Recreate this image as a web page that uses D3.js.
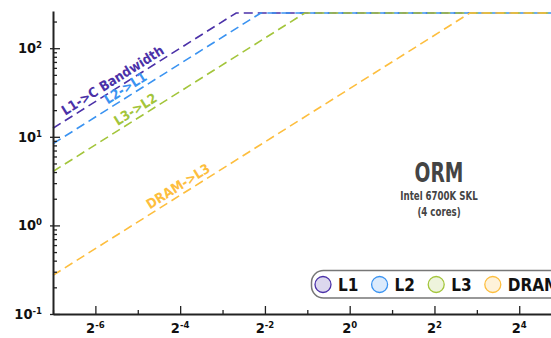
<!DOCTYPE html>
<html>
<head>
<meta charset="utf-8">
<script src="https://cdn.jsdelivr.net/npm/d3@7"></script>
<style>
	html, body { margin: 0; padding: 0; background: #fff; overflow: hidden; }
	svg { display: block; font-family: 'DejaVu Sans Condensed', 'Liberation Sans Narrow', sans-serif; font-weight: bold; }
</style>
</head>
<body>
<svg id="chart" width="551" height="338"></svg>
<script>
'use strict';

// memory levels and their measured bandwidth (GB/s)
var levels     = ['L1', 'L2', 'L3', 'DRAM'];
var bandwidths = [1600, 1070, 520, 35];
var lineLabels = ['L1->C Bandwidth', 'L2->L1', 'L3->L2', 'DRAM->L3'];
var peak       = 250; // GFLOP/s compute roof

var xTicks = [-6, -4, -2, 0, 2, 4];
var yTicks = [-1, 0, 1, 2];

var colors = ['#4b31a8', '#3a93f1', '#a3c53b', '#fdbe3e'];
var fills  = ['#dcd8ee', '#dcebfc', '#eef4dc', '#fef2da'];

var svg = d3.select('#chart');

var x = d3.scaleLog().base(2)
	.domain([Math.pow(2, -7), Math.pow(2, 6)])
	.range([53, 604]);

var y = d3.scaleLog()
	.domain([0.1, Math.pow(10, 2.42)])
	.range([314, 11]);

function roof(i) {
	var knee = peak / bandwidths[i];
	return [
		[x.domain()[0], bandwidths[i] * x.domain()[0]],
		[knee, peak],
		[x.domain()[1], peak]
	];
}

var line = d3.line()
	.x(function (d) { return x(d[0]); })
	.y(function (d) { return y(d[1]); });

// rooflines
svg.append('g').attr('class', 'roofs')
	.selectAll('path')
	.data(levels)
	.enter().append('path')
		.attr('d', function (d, i) { return line(roof(i)); })
		.attr('fill', 'none')
		.attr('stroke', function (d, i) { return colors[i]; })
		.attr('stroke-width', 1.6)
		.attr('stroke-dasharray', '9,5');

// labels sitting on the slopes
var labelAt = [-6.66, -5.66, -5.42, -4.66];
var angle   = -Math.atan2(y(1) - y(2), x(2) - x(1)) * 180 / Math.PI;

svg.append('g').attr('class', 'labels')
	.selectAll('text')
	.data(lineLabels)
	.enter().append('text')
		.attr('transform', function (d, i) {
			var ai = Math.pow(2, labelAt[i]);
			return 'translate(' + x(ai) + ',' + y(bandwidths[i] * ai) + ') rotate(' + angle + ')';
		})
		.attr('dy', '-0.3em')
		.attr('fill', function (d, i) { return colors[i]; })
		.style('font-size', '13.5px')
		.text(function (d) { return d; });

// axes
var xAxis = d3.axisBottom(x)
	.tickValues(d3.range(-7, 7).map(function (p) { return Math.pow(2, p); }))
	.tickSize(0)
	.tickFormat('');

svg.append('g')
	.attr('transform', 'translate(0,314)')
	.call(xAxis)
	.call(function (g) {
		g.select('.domain').attr('stroke', '#222').attr('stroke-width', 2);
		g.selectAll('.tick line')
			.attr('y2', function (d) {
				return Math.round(Math.log2(d)) % 2 === 0 ? -8 : -4;
			})
			.attr('stroke', '#222')
			.attr('stroke-width', 1.3);
	});

var yMinor = [];
for (var k = -1; k < 3; k++) {
	for (var m = 1; m < 10; m++) {
		var v = m * Math.pow(10, k);
		if (v <= y.domain()[1]) {
			yMinor.push(v);
		}
	}
}

var yAxis = d3.axisLeft(y)
	.tickValues(yMinor)
	.tickSize(0)
	.tickFormat('');

svg.append('g')
	.attr('transform', 'translate(53,0)')
	.call(yAxis)
	.call(function (g) {
		g.select('.domain').attr('stroke', '#222').attr('stroke-width', 2);
		g.selectAll('.tick line')
			.attr('x1', function (d) {
				return Math.abs(Math.log10(d) % 1) < 1e-9 ? -3 : 0;
			})
			.attr('x2', function (d) {
				return Math.abs(Math.log10(d) % 1) < 1e-9 ? 7 : 4;
			})
			.attr('stroke', '#222')
			.attr('stroke-width', 1.3);
	});

function powLabel(sel, base) {
	sel.append('tspan').text(base);
	sel.append('tspan')
		.attr('dy', '-0.55em')
		.style('font-size', '9.5px')
		.text(function (d) { return d; });
}

svg.append('g').attr('class', 'x-labels')
	.selectAll('text')
	.data(xTicks)
	.enter().append('text')
		.attr('x', function (d) { return x(Math.pow(2, d)); })
		.attr('y', 333)
		.attr('text-anchor', 'middle')
		.attr('fill', '#111')
		.style('font-size', '14.5px')
		.call(powLabel, '2');

svg.append('g').attr('class', 'y-labels')
	.selectAll('text')
	.data(yTicks)
	.enter().append('text')
		.attr('x', 42)
		.attr('y', function (d) { return y(Math.pow(10, d)) + 5; })
		.attr('text-anchor', 'end')
		.attr('fill', '#111')
		.style('font-size', '14.5px')
		.call(powLabel, '10');

// title block, squeezed a bit to look condensed
var title = svg.append('g')
	.attr('transform', 'translate(439,0) scale(0.8,1)')
	.attr('text-anchor', 'middle')
	.attr('fill', '#444');

title.append('text').attr('y', 182).style('font-size', '26px').text('ORM');
title.append('text').attr('y', 200).style('font-size', '12px').text('Intel 6700K SKL');
title.append('text').attr('y', 216).style('font-size', '12px').text('(4 cores)');

// legend (runs off the right edge, as in the original)
var legend = svg.append('g').attr('class', 'legend');

legend.append('rect')
	.attr('x', 311.5)
	.attr('y', 270.5)
	.attr('width', 280)
	.attr('height', 27.5)
	.attr('rx', 12)
	.attr('fill', '#fff')
	.attr('stroke', '#777')
	.attr('stroke-width', 1.5);

var item = legend.selectAll('.item')
	.data(levels)
	.enter().append('g')
		.attr('class', 'item')
		.attr('transform', function (d, i) { return 'translate(' + (323 + i * 56.6) + ',284.5)'; });

item.append('circle')
	.attr('r', 8)
	.attr('fill', function (d, i) { return fills[i]; })
	.attr('stroke', function (d, i) { return colors[i]; })
	.attr('stroke-width', 1.3);

item.append('text')
	.attr('x', 15)
	.attr('y', 6.5)
	.attr('fill', '#111')
	.style('font-size', '17px')
	.text(function (d) { return d; });
</script>
</body>
</html>
